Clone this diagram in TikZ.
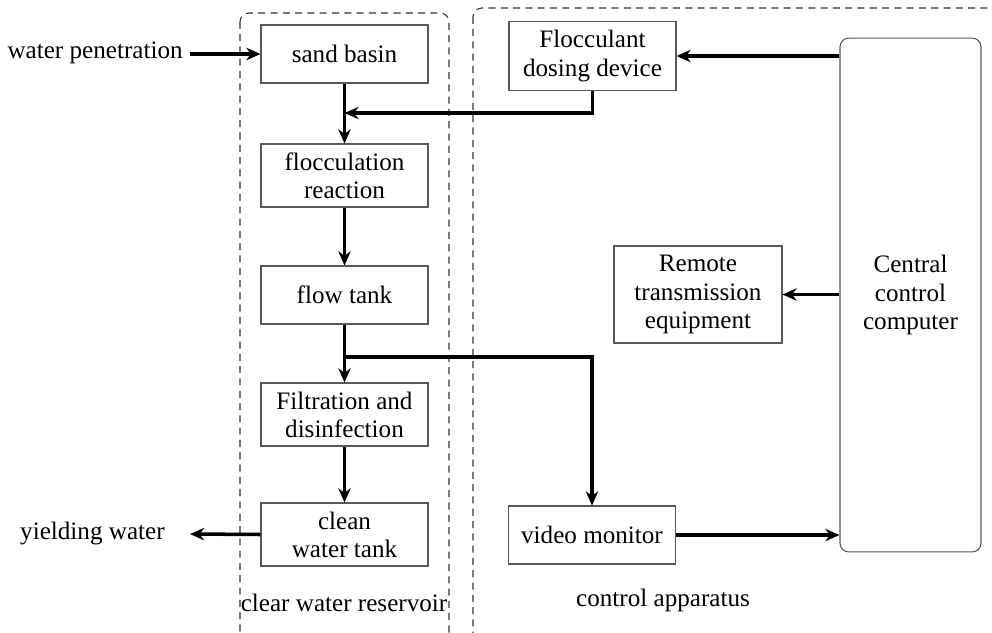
\documentclass[tikz,border=0pt]{standalone}
\usepackage{fontspec}
\setmainfont{LiberationSerif}[Extension=.ttf, UprightFont=*-Regular, BoldFont=*-Bold]
\usetikzlibrary{arrows.meta}

\tikzset{
    unit/.style={draw=black!65, line width=0.6pt, align=center, inner sep=2pt,
        minimum width=3.34cm, font=\fontsize{14.3}{16}\selectfont},
    flowline/.style={line width=2pt, -{Stealth[length=8pt,width=7pt,inset=2.5pt]}},
    area/.style={draw=black!80, line width=0.6pt, dash pattern=on 4pt off 3pt, rounded corners=5pt},
    caption/.style={font=\fontsize{14.3}{16}\selectfont, inner sep=0pt}
}

\begin{document}
\begin{tikzpicture}[x=0.02cm, y=-0.02cm]
    % Fix the page size
    \useasboundingbox (0,0) rectangle (992,633);
    \clip (0,0) rectangle (992,633);

    % Dashed areas (they run past the bottom edge)
    \draw[area] (240,13) rectangle (449,700);
    \draw[area] (473,8) rectangle (1020,700);
    \node[caption] (reservoir) at (344,603) {clear water reservoir};
    \node[caption] (apparatus) at (663,600) {control apparatus};

    % Treatment chain in the left column
    \foreach \name/\label/\ypos/\h in {
        sand/{sand basin}/54/58,
        floc/{flocculation\\reaction}/175.5/63,
        flow/{flow tank}/295/58,
        filt/{Filtration and\\disinfection}/414.5/63,
        clean/{clean\\water tank}/534.5/63
    } {
        \node[unit, minimum height=\h*0.02cm] (\name) at (344.5,\ypos) {\label};
    }

    % Control side
    \node[unit, minimum height=1.38cm] (dosing) at (592.5,56) {Flocculant\\dosing device};
    \node[unit, minimum width=3.36cm, minimum height=1.94cm] (remote) at (698,294.5) {Remote\\transmission\\equipment};
    \node[unit, minimum height=1.16cm] (video) at (592,535) {video monitor};
    \node[unit, rounded corners=5pt, minimum width=2.82cm, minimum height=10.28cm] (cpu) at (910.5,295) {Central\\control\\computer};

    % In and out
    \node[caption, anchor=east] (inlet) at (183,53) {water penetration};
    \node[caption, anchor=east] (outlet) at (165,533) {yielding water};
    \coordinate (outtip) at (190,534);
    \coordinate (join) at (344.5,113);
    \coordinate (split) at (344.5,357);

    % Water flow
    \draw[flowline] (inlet.east) ++(7,1) -- (sand.west);
    \draw[flowline] (sand) -- (floc);
    \draw[flowline] (floc) -- (flow);
    \draw[flowline] (flow) -- (filt);
    \draw[flowline] (filt) -- (clean);
    \draw[flowline] (clean.west) -- (outtip);

    % Control links
    \draw[flowline] (dosing.south) |- (join);
    \draw[flowline] (split) -| (video.north);
    \draw[flowline] (cpu.west |- dosing) -- (dosing.east);
    \draw[flowline] (cpu.west |- remote) -- (remote.east);
    \draw[flowline] (video.east) -- (cpu.west |- video);
\end{tikzpicture}
\end{document}
